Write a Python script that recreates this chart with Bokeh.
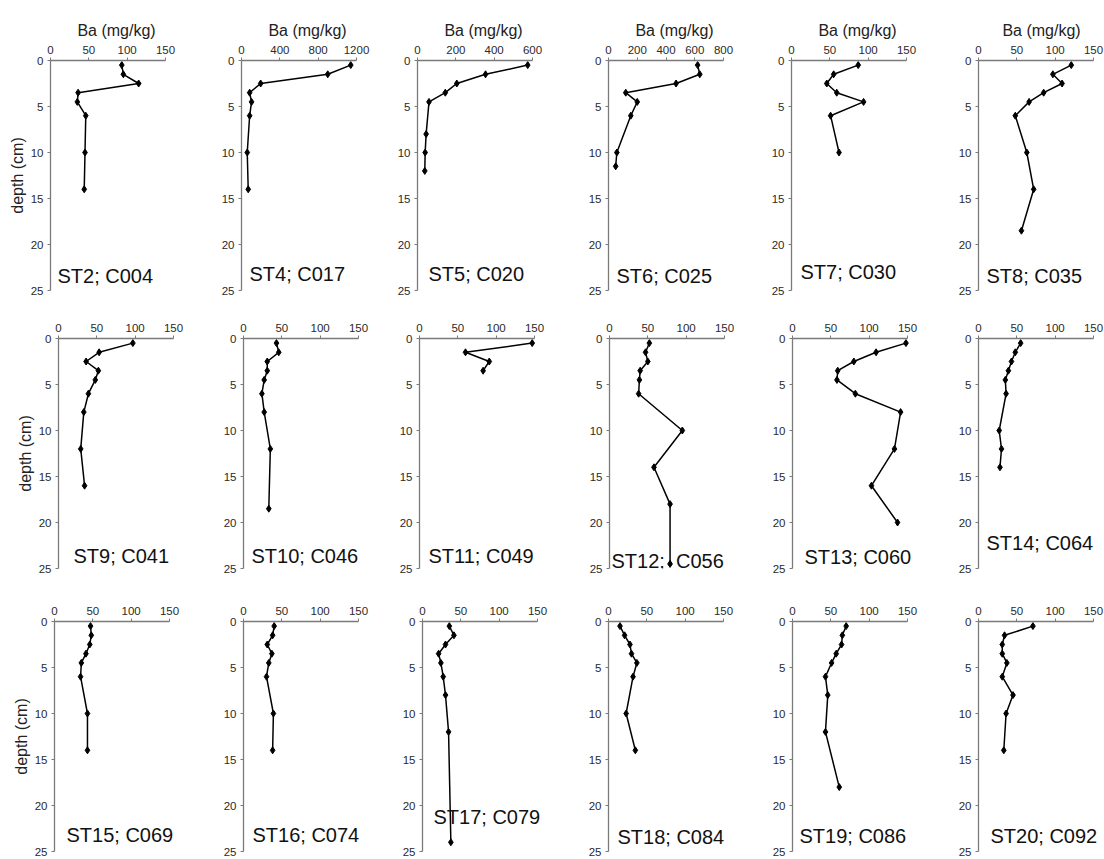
from bokeh.plotting import figure
from bokeh.layouts import column, row
from bokeh.models import Range1d, FixedTicker, Label
from bokeh.embed import file_html
from bokeh.resources import INLINE

# ---------------- data ----------------
stations = ["ST2; C004", "ST4; C017", "ST5; C020", "ST6; C025", "ST7; C030", "ST8; C035",
            "ST9; C041", "ST10; C046", "ST11; C049", "ST12;\u00a0 C056", "ST13; C060", "ST14; C064",
            "ST15; C069", "ST16; C074", "ST17; C079", "ST18; C084", "ST19; C086", "ST20; C092"]

depth_st2 = [0.5, 1.5, 2.5, 3.5, 4.5, 6, 10, 14]
ba_st2 = [93, 95, 115, 36, 35, 46, 45, 44]
depth_st4 = [0.5, 1.5, 2.5, 3.5, 4.5, 6, 10, 14]
ba_st4 = [1140, 900, 200, 85, 105, 85, 60, 70]
depth_st5 = [0.5, 1.5, 2.5, 3.5, 4.5, 8, 10, 12]
ba_st5 = [575, 355, 205, 145, 60, 45, 40, 38]
depth_st6 = [0.5, 1.5, 2.5, 3.5, 4.5, 6, 10, 11.5]
ba_st6 = [620, 635, 470, 120, 200, 155, 58, 50]
depth_st7 = [0.5, 1.5, 2.5, 3.5, 4.5, 6, 10]
ba_st7 = [87, 55, 46, 59, 94, 51, 62]
depth_st8 = [0.5, 1.5, 2.5, 3.5, 4.5, 6, 10, 14, 18.5]
ba_st8 = [121, 97, 109, 85, 66, 48, 63, 72, 56]
depth_st9 = [0.5, 1.5, 2.5, 3.5, 4.5, 6, 8, 12, 16]
ba_st9 = [97, 53, 36, 52, 48, 39, 33, 29, 34]
depth_st10 = [0.5, 1.5, 2.5, 3.5, 4.5, 6, 8, 12, 18.5]
ba_st10 = [43, 46, 31, 31, 27, 24, 27, 35, 33]
depth_st11 = [0.5, 1.5, 2.5, 3.5]
ba_st11 = [147, 60, 91, 83]
depth_st12 = [0.5, 1.5, 2.5, 3.5, 4.5, 6, 10, 14, 18, 24.5]
ba_st12 = [52, 47, 50, 40, 39, 38, 95, 58, 79, 79]
depth_st13 = [0.5, 1.5, 2.5, 3.5, 4.5, 6, 8, 12, 16, 20]
ba_st13 = [148, 109, 80, 59, 58, 82, 141, 133, 103, 137]
depth_st14 = [0.5, 1.5, 2.5, 3.5, 4.5, 6, 10, 12, 14]
ba_st14 = [55, 48, 43, 39, 35, 36, 27, 30, 28]
depth_st15 = [0.5, 1.5, 2.5, 3.5, 4.5, 6, 10, 14]
ba_st15 = [47, 48, 46, 41, 35, 34, 43, 43]
depth_st16 = [0.5, 1.5, 2.5, 3.5, 4.5, 6, 10, 14]
ba_st16 = [40, 38, 31, 37, 33, 30, 39, 38]
depth_st17 = [0.5, 1.5, 2.5, 3.5, 4.5, 6, 8, 12, 24]
ba_st17 = [35, 41, 30, 21, 24, 27, 30, 34, 37]
depth_st18 = [0.5, 1.5, 2.5, 3.5, 4.5, 6, 10, 14]
ba_st18 = [15, 21, 28, 30, 37, 32, 23, 35]
depth_st19 = [0.5, 1.5, 2.5, 3.5, 4.5, 6, 8, 12, 18]
ba_st19 = [70, 65, 64, 57, 51, 43, 46, 43, 61]
depth_st20 = [0.5, 1.5, 2.5, 3.5, 4.5, 6, 8, 10, 14]
ba_st20 = [71, 34, 31, 31, 37, 31, 45, 36, 33]

depths = [depth_st2, depth_st4, depth_st5, depth_st6, depth_st7, depth_st8,
          depth_st9, depth_st10, depth_st11, depth_st12, depth_st13, depth_st14,
          depth_st15, depth_st16, depth_st17, depth_st18, depth_st19, depth_st20]
bas = [ba_st2, ba_st4, ba_st5, ba_st6, ba_st7, ba_st8,
       ba_st9, ba_st10, ba_st11, ba_st12, ba_st13, ba_st14,
       ba_st15, ba_st16, ba_st17, ba_st18, ba_st19, ba_st20]

x_ticks_150 = [0, 50, 100, 150]
x_ticks_1200 = [0, 400, 800, 1200]
x_ticks_600 = [0, 200, 400, 600]
x_ticks_800 = [0, 200, 400, 600, 800]
x_ticks = [x_ticks_150, x_ticks_1200, x_ticks_600, x_ticks_800] + [x_ticks_150] * 14
y_ticks = [0, 5, 10, 15, 20, 25]

x_label = "Ba (mg/kg)"
y_label = "depth (cm)"

# ---------------- layout / style ----------------
FONT = "Liberation Sans"
AXW, FH = 115, 230          # drawn axis length / frame height
frame_left = [[50, 241, 417, 608, 791, 978],
              [58, 243, 419, 609, 792, 978],
              [54, 243, 422, 608, 792, 978]]
row_top = [60, 40, 40]
row_bottom = [8, 13, 8]
label_y = [23.4, 23.2, 23.2, 23.4, 23.0, 23.4,
           23.6, 23.6, 23.6, 24.2, 23.8, 22.2,
           23.2, 23.2, 21.3, 23.4, 23.3, 23.3]
label_dx = [7, 8, 11, 8, 9, 8,
            15, 8, 9, 2, 12, 8,
            12, 9, 11, 9, 7, 12]

AXIS_COLOR = "#7a7a7a"
TICK_TEXT = "#2a2a2a"

rows = []
for r in range(3):
    lefts = frame_left[r]
    starts = [0] + [lefts[c] - 40 for c in range(1, 6)] + [1104]
    figs = []
    for c in range(6):
        i = r * 6 + c
        ticks = x_ticks[i]
        xmax = ticks[-1]
        bl = lefts[c] - starts[c]
        fw = min(132, starts[c + 1] - lefts[c])
        br = starts[c + 1] - lefts[c] - fw
        p = figure(frame_width=fw, frame_height=FH,
                   x_range=Range1d(0, xmax * fw / AXW), y_range=Range1d(25, 0),
                   x_axis_location="above", output_backend="svg",
                   toolbar_location=None, tools="",
                   min_border_left=bl, min_border_right=br,
                   min_border_top=row_top[r], min_border_bottom=row_bottom[r])
        p.outline_line_color = None
        p.xgrid.visible = False
        p.ygrid.visible = False
        p.background_fill_color = "white"
        p.border_fill_color = "white"

        for ax, tk in ((p.xaxis[0], ticks), (p.yaxis[0], y_ticks)):
            ax.ticker = FixedTicker(ticks=tk)
            ax.axis_line_color = AXIS_COLOR
            ax.axis_line_width = 1.3
            ax.major_tick_line_color = AXIS_COLOR
            ax.major_tick_in = 0
            ax.major_tick_out = 3
            ax.minor_tick_line_color = None
            ax.major_label_text_font = FONT
            ax.major_label_text_font_size = "11.5px"
            ax.major_label_text_color = TICK_TEXT
            ax.major_label_standoff = 4
            ax.axis_label_text_font = FONT
            ax.axis_label_text_font_size = "16px"
            ax.axis_label_text_font_style = "normal"
            ax.axis_label_text_color = "#222222"
        p.xaxis[0].bounds = (0, xmax)
        if r == 0:
            p.xaxis[0].axis_label = x_label
            p.xaxis[0].axis_label_standoff = 4
        if c == 0:
            p.yaxis[0].axis_label = y_label
            p.yaxis[0].axis_label_standoff = 2

        p.line(bas[i], depths[i], line_color="black", line_width=1.5)
        p.scatter(bas[i], depths[i], marker="diamond", size=7, color="black")

        p.add_layout(Label(x=xmax * label_dx[i] / AXW, y=label_y[i], text=stations[i],
                           text_font=FONT, text_font_size="20px", text_color="#111111",
                           text_align="left", text_baseline="middle"))
        figs.append(p)
    rows.append(row(*figs))

layout = column(*rows)
open("out.html", "w").write(file_html(layout, INLINE))
